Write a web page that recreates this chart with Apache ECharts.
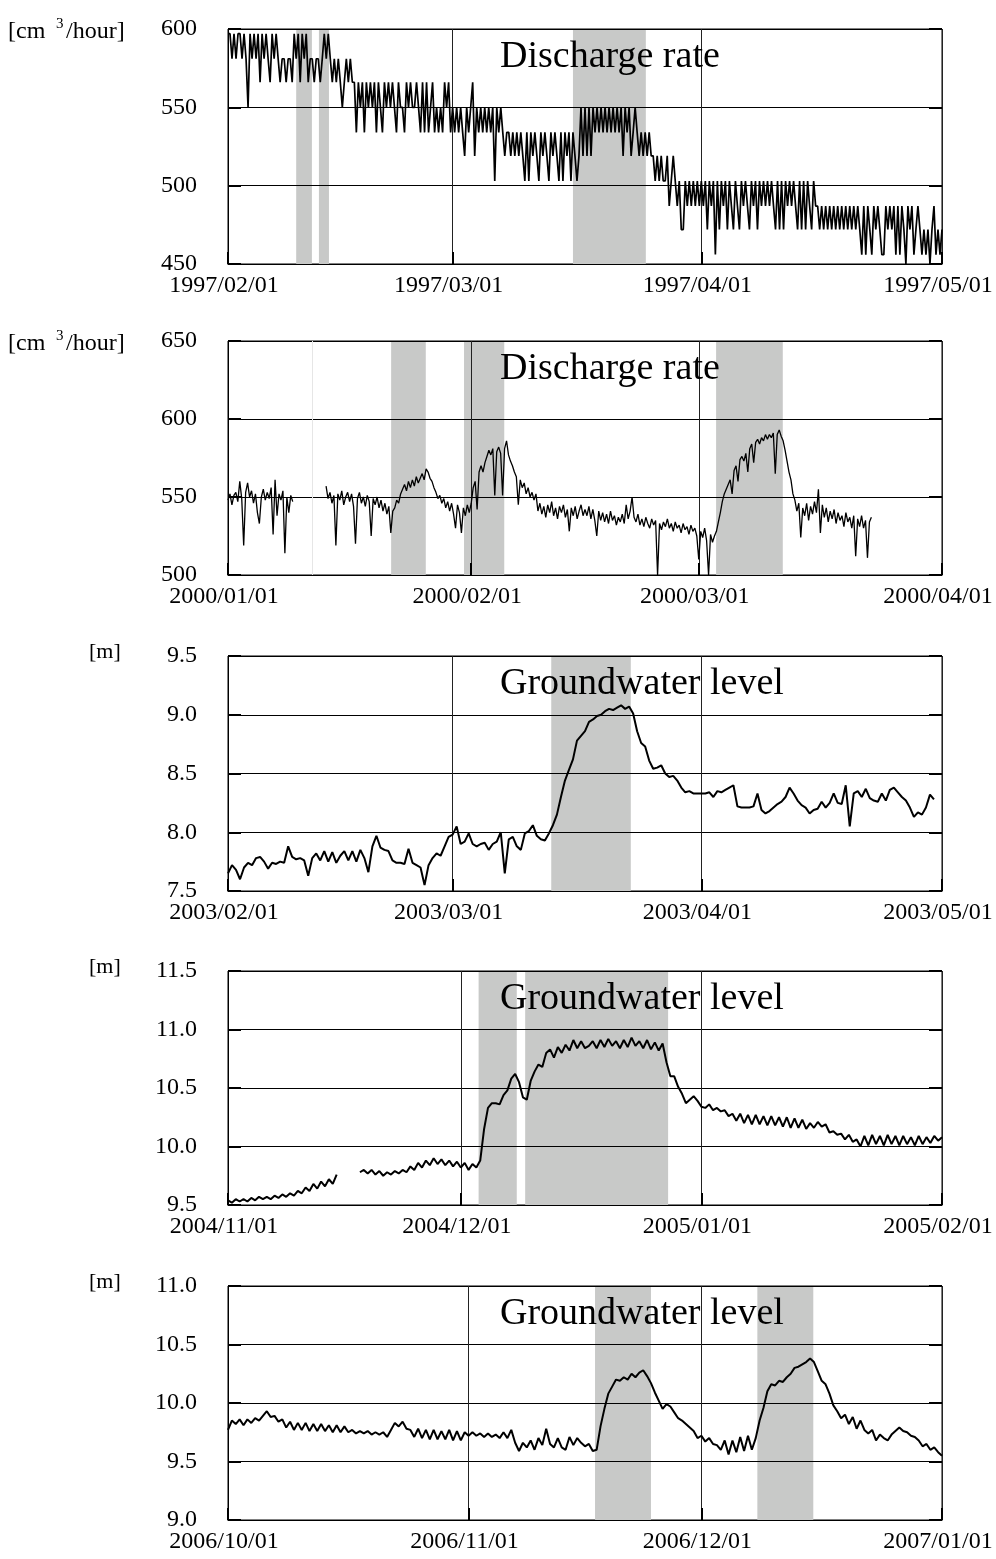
<!DOCTYPE html>
<html><head><meta charset="utf-8">
<script src="https://cdn.jsdelivr.net/npm/echarts@6/dist/echarts.min.js"></script>
<style>html,body{margin:0;padding:0;background:#fff}#c{width:996px;height:1559px}</style>
</head><body><div id="c"></div>
<script>
// ---------- Panel 1: Discharge rate 1997 (6-hour samples) ----------
const p1Start = '1997-02-01', p1End = '1997-05-01', p1StepHours = 6;
const p1Ticks = ['1997-02-01','1997-03-01','1997-04-01','1997-05-01'];
const p1Values = [
597,597,581,597,581,597,597,581,597,581,
550,597,581,597,581,597,566,597,581,597,
581,566,597,581,597,581,566,581,581,566,
581,581,566,597,581,597,566,597,581,597,
566,581,581,566,581,581,566,581,597,581,
597,581,566,581,566,581,566,550,566,581,
566,581,566,566,534,566,550,566,534,566,
550,566,550,566,534,566,550,534,566,550,
566,550,566,550,534,566,550,550,534,566,
550,566,550,550,566,550,534,566,534,566,
534,550,566,534,550,534,550,534,566,550,
566,534,550,534,550,534,550,534,519,550,
534,550,566,519,550,534,550,534,550,534,
550,534,550,503,550,534,550,534,519,534,
534,519,534,519,534,519,534,519,503,534,
503,534,519,534,519,503,534,519,534,519,
503,534,519,534,519,503,534,503,534,519,
534,503,534,519,503,519,550,519,550,519,
550,519,550,534,550,534,550,534,550,534,
550,534,550,534,550,534,550,519,550,534,
550,519,534,550,534,519,534,519,534,519,
534,519,519,503,519,503,519,503,503,519,
487,503,519,503,487,503,472,472,503,487,
503,487,503,487,503,487,503,487,503,472,
503,487,503,456,503,472,503,487,503,472,
503,487,472,503,487,472,503,487,503,487,
472,503,487,503,472,503,487,503,487,503,
487,503,487,472,503,472,503,472,503,487,
503,487,503,487,472,503,472,503,472,503,
487,472,503,487,487,472,487,472,487,472,
487,472,487,472,487,472,487,472,487,472,
487,472,487,472,487,472,456,487,456,487,
472,456,487,472,487,472,456,456,487,472,
487,472,487,456,487,456,487,472,450,487,
472,487,456,472,487,472,456,472,456,472,
450,472,487,456,472,456,472
];
const p1Bands = [['1997-02-09T12:00','1997-02-11T11:00'],['1997-02-12T08:00','1997-02-13T14:00'],['1997-03-16T00:00','1997-03-25T02:00']];

// ---------- Panel 2: Discharge rate 2000 (6-hour samples) ----------
const p2Start = '2000-01-01', p2End = '2000-04-01', p2StepHours = 6;
const p2Ticks = ['2000-01-01','2000-02-01','2000-03-01','2000-04-01'];
const p2Values = [
548,552,545,551,553,547,560,549,519,553,
559,550,554,546,552,540,533,550,555,548,
553,549,556,526,561,538,552,548,554,514,
550,540,551,547,null,null,null,null,null,null,
null,null,null,null,null,null,null,null,null,null,
557,549,553,546,551,519,552,548,554,545,
550,553,547,552,544,520,549,553,546,550,
544,551,547,525,549,545,550,543,548,541,
546,539,544,527,541,543,548,546,552,555,
558,554,560,556,561,557,563,559,562,565,
561,568,566,562,560,556,553,549,551,546,
549,543,547,541,546,539,530,545,540,527,
543,538,545,540,546,556,560,542,566,570,
566,572,576,580,577,581,551,579,582,578,
551,581,586,577,573,570,566,563,545,561,
556,559,552,556,550,553,548,552,541,546,
539,544,537,545,540,547,538,543,536,544,
540,545,537,542,528,543,538,544,536,541,
545,538,542,538,544,536,542,535,525,541,
535,540,534,539,533,541,535,538,532,537,
534,539,533,545,536,541,550,537,534,539,
532,536,531,537,533,530,536,532,535,500,
533,529,534,531,536,530,533,528,534,530,
532,527,533,529,531,526,532,528,530,525,
510,528,524,530,522,500,526,521,525,528,
534,540,547,552,555,558,561,552,567,570,
560,574,576,573,578,566,581,584,572,585,
587,584,588,586,590,587,590,588,591,565,
590,593,589,586,580,573,566,561,552,548,
541,546,524,543,538,546,535,544,539,547,
540,555,527,545,537,543,534,541,536,542,
533,540,535,538,531,540,534,537,530,538,
512,536,531,538,530,535,511,534,537,null
];
const p2Bands = [['2000-01-21T19:00','2000-01-26T05:00'],['2000-01-31T02:00','2000-02-05T05:00'],['2000-03-03T05:00','2000-03-11T17:00']];
const p2Faint = ['2000-01-11T17:00'];

// ---------- Panel 3: Groundwater level 2003 (12-hour samples) ----------
const p3Start = '2003-02-01', p3End = '2003-05-01', p3StepHours = 12;
const p3Ticks = ['2003-02-01','2003-03-01','2003-04-01','2003-05-01'];
const p3Values = [
7.65,7.72,7.68,7.60,7.70,7.74,7.72,7.78,7.79,7.75,
7.69,7.74,7.73,7.75,7.74,7.88,7.79,7.77,7.78,7.76,
7.63,7.78,7.82,7.76,7.84,7.75,7.83,7.74,7.80,7.84,
7.76,7.84,7.75,7.85,7.78,7.66,7.88,7.97,7.87,7.85,
7.84,7.76,7.74,7.74,7.73,7.86,7.74,7.72,7.70,7.55,
7.72,7.78,7.82,7.80,7.88,7.96,7.98,8.05,7.90,7.92,
7.99,7.90,7.88,7.90,7.91,7.85,7.90,7.92,8.00,7.65,
7.94,7.96,7.88,7.85,7.99,8.01,8.06,7.97,7.94,7.93,
7.99,8.06,8.15,8.30,8.44,8.53,8.62,8.78,8.82,8.86,
8.94,8.96,8.99,9.00,9.03,9.05,9.04,9.06,9.08,9.05,
9.07,9.01,8.86,8.76,8.73,8.61,8.54,8.55,8.57,8.50,
8.47,8.48,8.44,8.38,8.34,8.35,8.33,8.33,8.33,8.33,
8.34,8.30,8.35,8.34,8.36,8.38,8.40,8.22,8.21,8.21,
8.21,8.22,8.33,8.19,8.16,8.18,8.21,8.24,8.26,8.30,
8.38,8.33,8.27,8.23,8.21,8.16,8.19,8.20,8.26,8.21,
8.25,8.33,8.25,8.24,8.40,8.05,8.33,8.35,8.30,8.37,
8.29,8.27,8.26,8.33,8.27,8.36,8.38,8.34,8.30,8.27,
8.21,8.13,8.17,8.15,8.21,8.32,8.28
];
const p3Bands = [['2003-03-13T07:00','2003-03-23T05:00']];

// ---------- Panel 4: Groundwater level 2004-05 (12-hour samples) ----------
const p4Start = '2004-11-01', p4End = '2005-02-01', p4StepHours = 12;
const p4Ticks = ['2004-11-01','2004-12-01','2005-01-01','2005-02-01'];
const p4Values = [
9.54,9.52,9.55,9.53,9.55,9.53,9.56,9.54,9.57,9.55,
9.57,9.55,9.58,9.56,9.59,9.57,9.60,9.58,9.62,9.60,
9.65,9.62,9.68,9.64,9.70,9.66,9.72,9.68,9.76,null,
null,null,null,null,9.78,9.80,9.77,9.80,9.76,9.79,
9.75,9.78,9.76,9.79,9.77,9.80,9.78,9.83,9.80,9.86,
9.82,9.88,9.84,9.90,9.85,9.89,9.84,9.88,9.83,9.87,
9.82,9.86,9.80,9.85,9.82,9.88,10.15,10.33,10.37,10.37,
10.36,10.44,10.48,10.58,10.62,10.55,10.42,10.40,10.56,10.64,
10.70,10.68,10.80,10.83,10.76,10.85,10.80,10.87,10.82,10.91,
10.84,10.90,10.84,10.86,10.90,10.84,10.91,10.85,10.92,10.86,
10.90,10.84,10.91,10.85,10.93,10.86,10.90,10.84,10.91,10.83,
10.89,10.82,10.88,10.72,10.60,10.60,10.51,10.45,10.37,10.40,
10.43,10.39,10.34,10.33,10.36,10.31,10.33,10.30,10.31,10.26,
10.28,10.22,10.28,10.20,10.27,10.19,10.27,10.19,10.26,10.18,
10.26,10.18,10.25,10.17,10.25,10.16,10.24,10.16,10.23,10.15,
10.20,10.16,10.21,10.17,10.19,10.12,10.13,10.10,10.11,10.06,
10.10,10.04,10.06,10.00,10.09,10.01,10.10,10.02,10.09,10.01,
10.10,10.02,10.09,10.01,10.09,10.02,10.08,10.01,10.09,10.02,
10.08,10.03,10.09,10.05,10.08
];
const p4Bands = [['2004-12-03T07:00','2004-12-08T05:00'],['2004-12-09T07:00','2004-12-27T17:00']];

// ---------- Panel 5: Groundwater level 2006 (12-hour samples) ----------
const p5Start = '2006-10-01', p5End = '2007-01-01', p5StepHours = 12;
const p5Ticks = ['2006-10-01','2006-11-01','2006-12-01','2007-01-01'];
const p5Values = [
9.77,9.85,9.82,9.86,9.81,9.86,9.83,9.87,9.85,9.89,
9.93,9.88,9.89,9.84,9.86,9.79,9.84,9.77,9.83,9.77,
9.83,9.76,9.82,9.76,9.82,9.76,9.81,9.75,9.81,9.75,
9.80,9.75,9.77,9.74,9.76,9.74,9.76,9.73,9.75,9.73,
9.75,9.71,9.77,9.83,9.80,9.84,9.78,9.77,9.71,9.78,
9.70,9.77,9.69,9.77,9.69,9.76,9.69,9.77,9.68,9.76,
9.68,9.75,9.72,9.75,9.72,9.74,9.71,9.74,9.71,9.73,
9.70,9.75,9.70,9.77,9.66,9.59,9.66,9.62,9.68,9.60,
9.70,9.64,9.78,9.65,9.62,9.70,9.62,9.60,9.71,9.64,
9.70,9.66,9.63,9.65,9.59,9.60,9.80,9.95,10.08,10.14,
10.20,10.19,10.22,10.20,10.25,10.22,10.26,10.28,10.23,10.17,
10.09,10.02,9.95,9.99,9.97,9.92,9.87,9.85,9.82,9.79,
9.76,9.70,9.72,9.67,9.70,9.65,9.64,9.60,9.68,9.56,
9.68,9.58,9.71,9.59,9.72,9.60,9.70,9.85,9.96,10.10,
10.16,10.15,10.19,10.18,10.22,10.25,10.30,10.31,10.33,10.35,
10.38,10.35,10.27,10.19,10.16,10.08,9.98,9.93,9.87,9.90,
9.82,9.88,9.78,9.85,9.77,9.74,9.77,9.68,9.73,9.70,
9.68,9.73,9.76,9.79,9.76,9.75,9.72,9.71,9.68,9.63,
9.65,9.60,9.62,9.58,9.55
];
const p5Bands = [['2006-11-17T07:00','2006-11-24T12:00'],['2006-12-08T05:00','2006-12-15T10:00']];

// ---------- Texts ----------
const titles = ['Discharge rate','Discharge rate','Groundwater level','Groundwater level','Groundwater level'];
const unitKinds = ['cm3','cm3','m','m','m'];

// ---------- Build ----------
function ts(s){ return Date.parse(s.length === 10 ? s + 'T00:00:00Z' : s + ':00Z'); }
function fmtDate(v){
  const d = new Date(v);
  return d.getUTCFullYear() + '/' + String(d.getUTCMonth()+1).padStart(2,'0') + '/' + String(d.getUTCDate()).padStart(2,'0');
}
const FONT = '"Liberation Serif", "Times New Roman", serif';
const panels = [
  {start:p1Start,end:p1End,step:p1StepHours,vals:p1Values,ticks:p1Ticks,bands:p1Bands,faint:[],ymin:450,ymax:600,dec:0,lw:1.7,top:29,h:235},
  {start:p2Start,end:p2End,step:p2StepHours,vals:p2Values,ticks:p2Ticks,bands:p2Bands,faint:p2Faint,ymin:500,ymax:650,dec:0,lw:1.3,top:341,h:234},
  {start:p3Start,end:p3End,step:p3StepHours,vals:p3Values,ticks:p3Ticks,bands:p3Bands,faint:[],ymin:7.5,ymax:9.5,dec:1,lw:2,top:656,h:235},
  {start:p4Start,end:p4End,step:p4StepHours,vals:p4Values,ticks:p4Ticks,bands:p4Bands,faint:[],ymin:9.5,ymax:11.5,dec:1,lw:2,top:971,h:234},
  {start:p5Start,end:p5End,step:p5StepHours,vals:p5Values,ticks:p5Ticks,bands:p5Bands,faint:[],ymin:9.0,ymax:11.0,dec:1,lw:2,top:1286,h:234}
];
const grid=[], xAxis=[], yAxis=[], series=[], graphic=[];
panels.forEach((p,k)=>{
  const t0 = ts(p.start), stepMs = p.step*3600*1000;
  const tickVals = p.ticks.map(ts);
  grid.push({left:228, width:714, top:p.top, height:p.h, show:true, borderColor:'#000', borderWidth:1, backgroundColor:'#fff', containLabel:false, outerBoundsMode:'none'});
  xAxis.push({type:'value', gridIndex:k, min:ts(p.start), max:ts(p.end), z:2, scale:true,
    axisLine:{show:true, onZero:false, lineStyle:{color:'#000', width:1}},
    axisTick:{show:true, inside:true, length:12, lineStyle:{color:'#000', width:2}, customValues:tickVals},
    axisLabel:{show:true, customValues:tickVals, formatter:fmtDate, fontFamily:FONT, fontSize:24, color:'#000', margin:10, hideOverlap:false, padding:[0,8,0,0]},
    splitLine:{show:true, lineStyle:{color:'#222', width:1}}, minorTick:{show:false}});
  const interval = p.dec ? 0.5 : 50;
  yAxis.push({type:'value', gridIndex:k, min:p.ymin, max:p.ymax, interval:interval, z:2,
    axisLine:{show:true, lineStyle:{color:'#000', width:1}},
    axisTick:{show:true, inside:true, length:13, lineStyle:{color:'#000', width:2}},
    axisLabel:{formatter:v=>v.toFixed(p.dec), fontFamily:FONT, fontSize:24, color:'#000', margin:31, padding:[0,0,6,0]},
    splitLine:{show:true, lineStyle:{color:'#000', width:1}}});
  yAxis.push({type:'value', gridIndex:k, position:'right', min:p.ymin, max:p.ymax, interval:interval, z:2,
    axisLine:{show:false}, axisTick:{show:true, inside:true, length:13, lineStyle:{color:'#000', width:2}},
    axisLabel:{show:false}, splitLine:{show:false}});
  const data = p.vals.map((v,i)=>[t0 + i*stepMs, v]);
  const md = p.bands.map(b=>[{xAxis:ts(b[0])},{xAxis:ts(b[1])}]);
  const s = {type:'line', xAxisIndex:k, yAxisIndex:2*k, data:data, showSymbol:false, symbol:'none', z:3,
    lineStyle:{color:'#000', width:p.lw}, connectNulls:false, silent:true, animation:false,
    markArea:{silent:true, itemStyle:{color:'#c8c9c8', opacity:1}, data:md}};
  if (p.faint.length) s.markLine = {silent:true, symbol:'none', label:{show:false}, lineStyle:{color:'#e6e6e6', type:'solid', width:1}, data:p.faint.map(f=>({xAxis:ts(f)}))};
  series.push(s);
  graphic.push({type:'text', x:500, y:p.top+28, z:10, style:{text:titles[k], font:'38px ' + FONT, fill:'#000', textVerticalAlign:'middle'}});
  if (unitKinds[k]==='cm3'){
    graphic.push({type:'text', x:8, y:p.top+3, z:10, style:{text:'[cm', font:'24px ' + FONT, fill:'#000', textVerticalAlign:'middle'}});
    graphic.push({type:'text', x:56, y:p.top-5, z:10, style:{text:'3', font:'15px ' + FONT, fill:'#000', textVerticalAlign:'middle'}});
    graphic.push({type:'text', x:66, y:p.top+3, z:10, style:{text:'/hour]', font:'24px ' + FONT, fill:'#000', textVerticalAlign:'middle'}});
  } else {
    graphic.push({type:'text', x:89, y:p.top-4, z:10, style:{text:'[m]', font:'22px ' + FONT, fill:'#000', textVerticalAlign:'middle'}});
  }
});
const chart = echarts.init(document.getElementById('c'), null, {renderer:'canvas'});
chart.setOption({backgroundColor:'#fff', animation:false, grid, xAxis, yAxis, series, graphic});
</script>
</body></html>
